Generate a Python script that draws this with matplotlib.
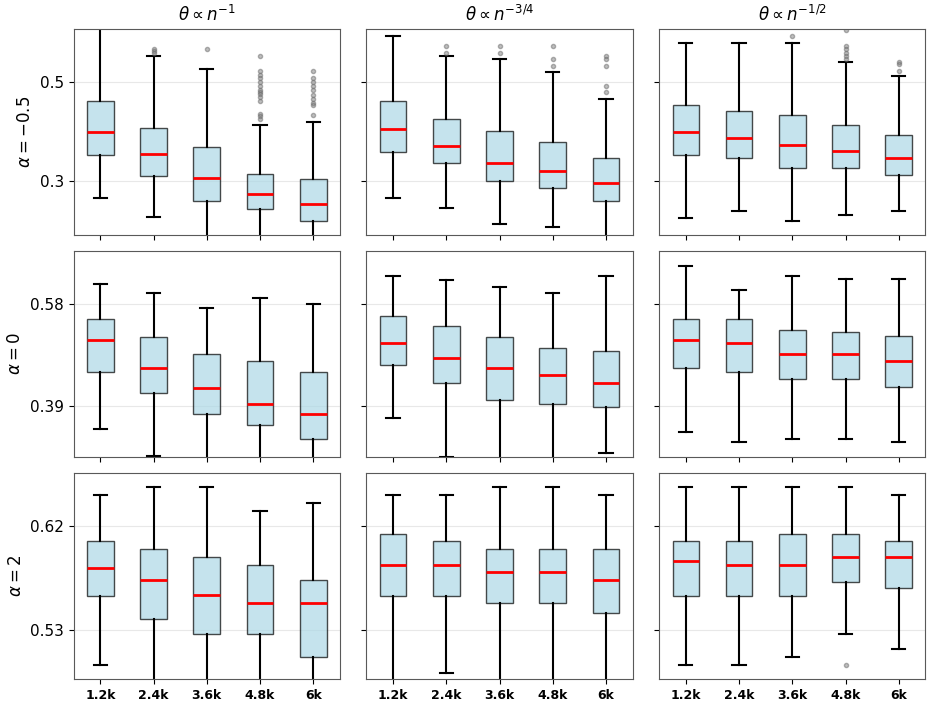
import matplotlib
matplotlib.use("Agg")
import matplotlib.pyplot as plt

sizes = ["1.2k", "2.4k", "3.6k", "4.8k", "6k"]
col_titles = [r"$\theta \propto n^{-1}$", r"$\theta \propto n^{-3/4}$", r"$\theta \propto n^{-1/2}$"]
row_labels = [r"$\alpha = -0.5$", r"$\alpha = 0$", r"$\alpha = 2$"]
row_ticks = [[0.3, 0.5], [0.39, 0.58], [0.53, 0.62]]
row_ylims = [(0.191, 0.608), (0.294, 0.680), (0.488, 0.6654)]

# ---- alpha = -0.5 ----
med_r1 = [[0.400, 0.354, 0.307, 0.273, 0.253],
          [0.406, 0.370, 0.336, 0.320, 0.296],
          [0.400, 0.387, 0.373, 0.360, 0.346]]
q1_r1 = [[0.353, 0.311, 0.259, 0.244, 0.219],
         [0.359, 0.337, 0.299, 0.286, 0.259],
         [0.353, 0.346, 0.326, 0.326, 0.313]]
q3_r1 = [[0.462, 0.408, 0.368, 0.314, 0.303],
         [0.462, 0.426, 0.401, 0.379, 0.346],
         [0.453, 0.442, 0.433, 0.413, 0.393]]
lo_r1 = [[0.266, 0.226, 0.170, 0.165, 0.160],
         [0.266, 0.246, 0.213, 0.206, 0.170],
         [0.225, 0.239, 0.219, 0.232, 0.239]]
hi_r1 = [[0.625, 0.553, 0.527, 0.413, 0.420],
         [0.594, 0.553, 0.547, 0.520, 0.467],
         [0.580, 0.580, 0.580, 0.541, 0.513]]
fl_r1 = [[[], [0.568, 0.564, 0.560], [0.567],
          [0.554, 0.522, 0.515, 0.509, 0.501, 0.492, 0.484, 0.480, 0.476, 0.470, 0.463, 0.435, 0.431, 0.426],
          [0.522, 0.508, 0.500, 0.492, 0.485, 0.474, 0.466, 0.459, 0.454, 0.434]],
         [[], [0.574, 0.560], [0.574, 0.560], [0.574, 0.547, 0.533],
          [0.553, 0.547, 0.533, 0.493, 0.480]],
         [[], [], [0.594], [0.607, 0.574, 0.567, 0.560, 0.553, 0.547],
          [0.542, 0.537, 0.522]]]

# ---- alpha = 0 ----
med_r2 = [[0.514, 0.461, 0.424, 0.394, 0.374],
          [0.507, 0.480, 0.460, 0.447, 0.433],
          [0.514, 0.507, 0.487, 0.487, 0.474]]
q1_r2 = [[0.453, 0.413, 0.374, 0.354, 0.327],
         [0.467, 0.433, 0.400, 0.394, 0.387],
         [0.461, 0.454, 0.441, 0.441, 0.426]]
q3_r2 = [[0.553, 0.519, 0.4875, 0.473, 0.453],
         [0.559, 0.539, 0.519, 0.499, 0.493],
         [0.5525, 0.5525, 0.5325, 0.528, 0.520]]
lo_r2 = [[0.347, 0.295, 0.280, 0.275, 0.270],
         [0.367, 0.294, 0.280, 0.275, 0.301],
         [0.341, 0.321, 0.327, 0.327, 0.321]]
hi_r2 = [[0.619, 0.601, 0.573, 0.593, 0.581],
         [0.633, 0.626, 0.613, 0.601, 0.633],
         [0.653, 0.607, 0.633, 0.627, 0.627]]

# ---- alpha = 2 ----
med_r3 = [[0.5835, 0.5734, 0.5602, 0.5533, 0.5533],
          [0.5866, 0.5866, 0.5800, 0.5800, 0.5734],
          [0.5900, 0.5866, 0.5866, 0.5933, 0.5933]]
q1_r3 = [[0.560, 0.540, 0.5268, 0.5268, 0.5067],
         [0.560, 0.560, 0.5533, 0.5533, 0.545],
         [0.560, 0.560, 0.560, 0.5714, 0.5668]]
q3_r3 = [[0.6068, 0.5999, 0.5933, 0.5866, 0.5734],
         [0.6134, 0.6068, 0.5999, 0.5999, 0.5999],
         [0.6068, 0.6068, 0.6134, 0.6134, 0.6068]]
lo_r3 = [[0.500, 0.480, 0.475, 0.475, 0.470],
         [0.480, 0.4935, 0.480, 0.480, 0.480],
         [0.500, 0.500, 0.5067, 0.5268, 0.5136]]
hi_r3 = [[0.647, 0.6534, 0.6534, 0.6332, 0.640],
         [0.647, 0.647, 0.6534, 0.6534, 0.647],
         [0.6534, 0.6534, 0.6534, 0.6534, 0.647]]
fl_r3 = [[[], [], [], [], []],
         [[], [], [], [], []],
         [[], [], [], [0.500], []]]

meds = [med_r1, med_r2, med_r3]
q1s = [q1_r1, q1_r2, q1_r3]
q3s = [q3_r1, q3_r2, q3_r3]
los = [lo_r1, lo_r2, lo_r3]
his = [hi_r1, hi_r2, hi_r3]
fls = [fl_r1, [[[]] * 5] * 3, fl_r3]

fig, axes = plt.subplots(3, 3, figsize=(9.33, 7.03), dpi=100, sharey="row")
fig.subplots_adjust(left=0.079, right=0.9918, top=0.9587, bottom=0.0341,
                    wspace=0.1, hspace=0.08)

for r in range(3):
    for c in range(3):
        ax = axes[r, c]
        stats = []
        for i in range(5):
            stats.append(dict(med=meds[r][c][i], q1=q1s[r][c][i], q3=q3s[r][c][i],
                              whislo=los[r][c][i], whishi=his[r][c][i],
                              fliers=fls[r][c][i]))
        ax.bxp(stats, positions=range(1, 6), widths=0.5, patch_artist=True,
               boxprops=dict(facecolor="lightblue", edgecolor="black", alpha=0.7, linewidth=1.0),
               medianprops=dict(color="red", linewidth=2),
               whiskerprops=dict(color="black", linewidth=1.5),
               capprops=dict(color="black", linewidth=1.5),
               flierprops=dict(marker="o", markersize=3, markerfacecolor="gray",
                               markeredgecolor="dimgray", alpha=0.5))
        ax.set_xlim(0.5, 5.5)
        ax.set_ylim(*row_ylims[r])
        ax.set_yticks(row_ticks[r])
        ax.set_yticklabels([f"{t:g}" for t in row_ticks[r]])
        ax.yaxis.grid(True, color="lightgray", alpha=0.5, linewidth=0.8)
        ax.set_axisbelow(True)
        for s in ax.spines.values():
            s.set_color("0.35")
        ax.tick_params(axis="y", labelsize=11)
        ax.set_xticks(range(1, 6))
        if r == 2:
            ax.set_xticklabels(sizes, fontweight="bold", fontsize=9)
        else:
            ax.set_xticklabels([])
        if r == 0:
            ax.set_title(col_titles[c], fontsize=12)
        if c == 0:
            ax.set_ylabel(row_labels[r], fontsize=12)

fig.savefig("out.png", dpi=100)
